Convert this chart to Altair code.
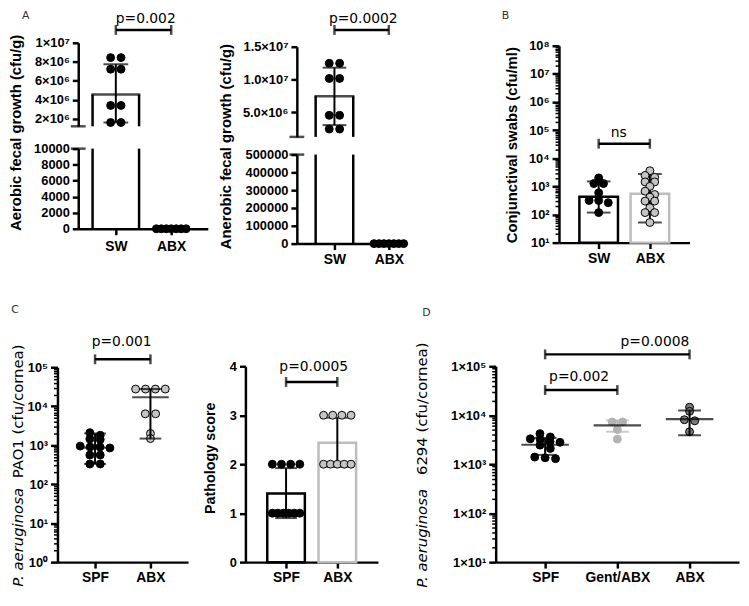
import json
import math
import altair as alt
import pandas as pd

M = 8
W, H = 741, 584


def P(v):
    return v - M


# ================= DATA =================
A1_GROUPS = ["SW", "ABX"]
A1_SW = [8.44e6, 8.44e6, 7.22e6, 7.22e6, 3.4e6, 3.4e6, 1.6e6, 1.6e6]
A1_ABX = [0, 0, 0, 0, 0, 0, 0]
A1_BAR = [4.55e6, 0]
A1_HI = [7.74e6, 0]
A1_LO = [1.6e6, 0]
A1_TOP_TICKS = [2e6, 4e6, 6e6, 8e6, 1e7]
A1_TOP_LABELS = ["2×10⁶", "4×10⁶", "6×10⁶", "8×10⁶", "1×10⁷"]
A1_BOT_TICKS = [0, 2000, 4000, 6000, 8000, 10000]
A1_TITLE = "Aerobic fecal growth (cfu/g)"
A1_P = "p=0.002"

A2_GROUPS = ["SW", "ABX"]
A2_SW = [12.47e6, 12.47e6, 10.15e6, 10.15e6, 4.5e6, 4.5e6, 2.4e6, 2.4e6]
A2_ABX = [0, 0, 0, 0, 0, 0, 0]
A2_BAR = [7.42e6, 0]
A2_HI = [11.8e6, 0]
A2_LO = [3.0e6, 0]
A2_TOP_TICKS = [5e6, 1e7, 1.5e7]
A2_TOP_LABELS = ["5.0×10⁶", "1.0×10⁷", "1.5×10⁷"]
A2_BOT_TICKS = [0, 100000, 200000, 300000, 400000, 500000]
A2_TITLE = "Anerobic fecal growth (cfu/g)"
A2_P = "p=0.0002"

B_GROUPS = ["SW", "ABX"]
B_SW = [2000, 1260, 1260, 590, 316, 316, 263, 117]
B_ABX = [3600, 2450, 2100, 1440, 1440, 1000, 675, 515, 415, 300, 300, 175, 117, 117, 52]
B_BAR = [430, 550]
B_HI = [1500, 2750]
B_LO = [117, 52]
B_TICKS = [1e1, 1e2, 1e3, 1e4, 1e5, 1e6, 1e7, 1e8]
B_LABELS = ["10¹", "10²", "10³", "10⁴", "10⁵", "10⁶", "10⁷", "10⁸"]
B_TITLE = "Conjunctival swabs (cfu/ml)"
B_P = "ns"

C1_GROUPS = ["SPF", "ABX"]
C1_SPF = [2100, 1800, 1450, 1400, 950, 900, 900, 850, 560, 560, 330, 330]
C1_ABX = [27600, 27600, 27600, 27600, 6400, 6400, 2000, 1480]
C1_MEAN = [870, 17000]
C1_HI = [2000, 27600]
C1_LO = [330, 1480]
C1_TICKS = [1, 10, 100, 1000, 10000, 100000]
C1_LABELS = ["10⁰", "10¹", "10²", "10³", "10⁴", "10⁵"]
C1_TITLE_IT = "P. aeruginosa"
C1_TITLE_RM = "PAO1 (cfu/cornea)"
C1_P = "p=0.001"

C2_GROUPS = ["SPF", "ABX"]
C2_SPF = [2, 2, 2, 2, 1, 1, 1, 1, 1, 1]
C2_ABX = [3, 3, 3, 3, 2, 2, 2, 2, 2]
C2_BAR = [1.4, 2.44]
C2_HI = [1.92, 2.95]
C2_LO = [0.9, 1.95]
C2_TICKS = [0, 1, 2, 3, 4]
C2_TITLE = "Pathology score"
C2_P = "p=0.0005"

D_GROUPS = ["SPF", "Gent/ABX", "ABX"]
D_SPF = [4200, 3600, 3300, 3200, 2900, 2800, 2450, 2100, 1400, 1350, 1300]
D_GENT = [7300, 7300, 5100, 3250]
D_ABX = [14600, 12000, 8100, 7700, 4600]
D_MEAN = [2500, 6200, 8300]
D_HI = [3450, 7900, 12500]
D_LO = [1550, 4600, 3900]
D_TICKS = [1e1, 1e2, 1e3, 1e4, 1e5]
D_LABELS = ["1×10¹", "1×10²", "1×10³", "1×10⁴", "1×10⁵"]
D_TITLE_IT = "P. aeruginosa"
D_TITLE_RM = "6294 (cfu/cornea)"
D_P = ["p=0.002", "p=0.0008"]

# ================= STYLE / LAYOUT (page pixels) =================
BLACK = "#000000"
LGREY = "#c4c4c4"
BARGREY = "#bdbdbd"
GENT = "#b3b3b3"
DGREY = "#7d7d7d"
PFONT = "DejaVu Sans"

L_A1 = dict(x0=79, x1=210, c=[117, 173], xaxis_y=228, lpad=5)
S_A1_TOP = dict(type="linear", domain=[1.2e6, 1e7], y0=124.4, y1=40)
S_A1_BOT = dict(type="linear", domain=[0, 10000], y0=228, y1=147)

L_A2 = dict(x0=300, x1=410, c=[338, 393], xaxis_y=243, lpad=3)
S_A2_TOP = dict(type="linear", domain=[1.2e6, 1.5e7], y0=135.1, y1=44)
S_A2_BOT = dict(type="linear", domain=[0, 500000], y0=243, y1=153)

L_B = dict(x0=565, x1=697, c=[603, 659], xaxis_y=242, lpad=3)
S_B = dict(type="log", domain=[1e1, 1e8], y0=242, y1=43)

L_C1 = dict(x0=58, x1=190, c=[96, 152], xaxis_y=565, lpad=3)
S_C1 = dict(type="log", domain=[1, 1e5], y0=565, y1=368)

L_C2 = dict(x0=248, x1=382, c=[287, 343], xaxis_y=565, lpad=3)
S_C2 = dict(type="linear", domain=[0, 4], y0=565, y1=367)

L_D = dict(x0=501, x1=747, c=[551, 624, 697], xaxis_y=565, lpad=3)
S_D = dict(type="log", domain=[1e1, 1e5], y0=565, y1=367)


# ================= helpers =================
def xscale(L):
    st = L["c"][1] - L["c"][0]
    return alt.Scale(type="linear",
                     domain=[(L["x0"] - L["c"][0]) / st, (L["x1"] - L["c"][0]) / st],
                     range=[P(L["x0"]), P(L["x1"])], nice=False, zero=False)


def yscale(S):
    return alt.Scale(type=S["type"], domain=S["domain"],
                     range=[P(S["y0"]), P(S["y1"])], nice=False, zero=False)


def ypix_seg(v, S):
    lo, hi = S["domain"]
    if S["type"] == "log":
        t = (math.log10(v) - math.log10(lo)) / (math.log10(hi) - math.log10(lo))
    else:
        t = (v - lo) / (hi - lo)
    return S["y0"] + t * (S["y1"] - S["y0"])


def ypix_multi(v, segs):
    for S in segs:
        if S["domain"][0] <= v <= S["domain"][1]:
            return ypix_seg(v, S)
    return ypix_seg(v, segs[0])


def swarm(ypx, step_px=10.5, span_px=30.0, thr=4.0):
    order = sorted(range(len(ypx)), key=lambda i: ypx[i])
    rows = []
    for i in order:
        if rows and ypx[i] - ypx[rows[-1][0]] <= thr:
            rows[-1].append(i)
        else:
            rows.append([i])
    off = [0.0] * len(ypx)
    for r in rows:
        k = len(r)
        if k > 1:
            s = min(step_px, span_px / (k - 1))
            for j, i in enumerate(r):
                off[i] = (j - (k - 1) / 2) * s
    return off


def make_points(groups, series, L, segs):
    st = L["c"][1] - L["c"][0]
    rows = []
    for gi, (g, vals) in enumerate(zip(groups, series)):
        off = swarm([ypix_multi(v, segs) for v in vals])
        for v, o in zip(vals, off):
            rows.append({"grp": g, "g": gi, "v": v, "xp": gi + o / st})
    return pd.DataFrame(rows)


def make_summary(groups, hi, lo, bar=None, mean=None):
    n = len(groups)
    b = bar if bar is not None else [0] * n
    m = mean if mean is not None else b
    return pd.DataFrame({"grp": groups, "g": list(range(n)), "bar": b, "mean": m,
                         "hi": hi, "lo": lo})


def label_expr(vals, labels):
    return f"{json.dumps(labels, ensure_ascii=False)}[indexof({json.dumps(vals)}, datum.value)]"


def y_axis(L, values, labels=None, tick=6):
    kw = dict(orient="left", offset=-P(L["x0"]), values=values, title=None, grid=False,
              tickSize=tick, labelPadding=3, labelOverlap=False, labelFlush=False)
    if labels is not None:
        kw["labelExpr"] = label_expr(values, labels)
    else:
        kw["format"] = "d"
    return alt.Axis(**kw)


def minor_axis(L, S):
    lo, hi = S["domain"]
    vals = []
    e = int(math.floor(math.log10(lo)))
    while 10 ** e < hi:
        for k in range(2, 10):
            v = k * 10 ** e
            if lo < v < hi:
                vals.append(v)
        e += 1
    return alt.Axis(orient="left", offset=-P(L["x0"]), values=vals, title=None, grid=False,
                    labels=False, domain=False, tickSize=4, tickWidth=1.5)


def x_axis(L, groups):
    return alt.Axis(orient="bottom", offset=P(L["xaxis_y"]) - H,
                    values=list(range(len(groups))),
                    labelExpr=f"{json.dumps(groups)}[datum.value]", title=None, grid=False,
                    tickSize=6, labelPadding=L["lpad"], labelFlush=False, labelOverlap=False,
                    labelFontSize=14)


def segment(cfg, S, yaxis, xaxis=None, minor=None, brackets=(), break_at=None):
    L = cfg["L"]
    xs, ys = xscale(L), yscale(S)
    lo, hi = S["domain"]
    st = L["c"][1] - L["c"][0]
    xd0 = (L["x0"] - L["c"][0]) / st
    inrange = f"datum.v >= {lo} && datum.v <= {hi}"

    def X(f):
        return alt.X(f, type="quantitative", scale=xs, axis=None)

    def Y(f):
        return alt.Y(f, type="quantitative", scale=ys, axis=None)

    layers = []
    carrier = pd.DataFrame({"g": [0.0], "v": [lo]})
    layers.append(alt.Chart(carrier).mark_point(opacity=0).encode(
        x=X("g"), y=alt.Y("v", type="quantitative", scale=ys, axis=yaxis)))
    if xaxis is not None:
        layers.append(alt.Chart(carrier).mark_point(opacity=0).encode(
            x=alt.X("g", type="quantitative", scale=xs, axis=xaxis), y=Y("v")))
    if minor is not None:
        layers.append(alt.Chart(carrier).mark_point(opacity=0).encode(
            x=X("g"), y=alt.Y("v", type="quantitative", scale=ys, axis=minor)))

    summ = cfg["summ"].assign(base=lo)
    pts = cfg["pts"]
    w = cfg.get("bar_w", 0)

    bars = []
    if cfg.get("bar_mode") == "bar":
        for gi in range(len(cfg["groups"])):
            bars.append(alt.Chart(summ.iloc[[gi]]).mark_bar(
                orient="vertical", size=w, fill="white", stroke=cfg["bar_col"][gi],
                strokeWidth=2.5).encode(x=X("g"), y=Y("bar"), y2=alt.Y2("base")))
    elif cfg.get("bar_mode") == "broken":
        for off in (-w / 2, w / 2):
            bars.append(alt.Chart(summ).transform_filter(f"datum.bar > {lo}")
                        .transform_calculate(yt=f"min(datum.bar, {hi})")
                        .mark_rule(color=BLACK, strokeWidth=2.5, xOffset=off)
                        .encode(x=X("g"), y=Y("yt"), y2=alt.Y2("base")))
        bars.append(alt.Chart(summ).transform_filter(f"datum.bar > {lo} && datum.bar <= {hi}")
                    .mark_tick(orient="horizontal", size=w + 2.5, thickness=2.5, color=BLACK)
                    .encode(x=X("g"), y=Y("bar")))

    points = []
    for gi in range(len(cfg["groups"])):
        fill, stroke = cfg["pstyle"][gi]
        points.append(alt.Chart(pts[pts.g == gi]).transform_filter(inrange)
                      .mark_circle(size=64, fill=fill, stroke=stroke, strokeWidth=1, opacity=1)
                      .encode(x=X("xp"), y=Y("v")))

    errs = []
    cond = f"datum.hi > datum.lo && datum.lo >= {lo} && datum.hi <= {hi}"
    for gi in range(len(cfg["groups"])):
        d = summ.iloc[[gi]]
        col = cfg["errcol"][gi]
        errs.append(alt.Chart(d).transform_filter(cond).mark_rule(color=col, strokeWidth=2)
                    .encode(x=X("g"), y=Y("lo"), y2=alt.Y2("hi")))
        for f in ("hi", "lo"):
            errs.append(alt.Chart(d).transform_filter(cond)
                        .mark_tick(orient="horizontal", size=cfg["cap_w"], thickness=2, color=col)
                        .encode(x=X("g"), y=Y(f)))
        if cfg.get("mean_w"):
            errs.append(alt.Chart(d).transform_filter(cond)
                        .mark_tick(orient="horizontal", size=cfg["mean_w"], thickness=2.2, color=BLACK)
                        .encode(x=X("g"), y=Y("mean")))

    if cfg.get("bar_mode"):
        layers += bars + errs + points
    else:
        layers += points + errs

    for (g1, g2, yv, tx, lab, dy) in brackets:
        d = pd.DataFrame({"g1": [g1], "g2": [g2], "y": [yv], "tx": [tx], "label": [lab]})
        layers.append(alt.Chart(d).mark_rule(color=BLACK, strokeWidth=2.5)
                      .encode(x=X("g1"), x2=alt.X2("g2"), y=Y("y")))
        caps = pd.DataFrame({"g": [g1, g2], "y": [yv, yv]})
        layers.append(alt.Chart(caps).mark_tick(orient="vertical", size=10, thickness=2.5, color=BLACK)
                      .encode(x=X("g"), y=Y("y")))
        layers.append(alt.Chart(d).mark_text(font=PFONT, fontSize=14, baseline="alphabetic",
                                             align="center", dy=dy, color=BLACK)
                      .encode(x=X("tx"), y=Y("y"), text="label:N"))

    if break_at is not None:
        d = pd.DataFrame({"g": [xd0], "y": [break_at]})
        layers.append(alt.Chart(d).mark_tick(orient="horizontal", size=15, thickness=2.5, color=BLACK)
                      .encode(x=X("g"), y=Y("y")))

    return alt.layer(*layers).resolve_axis(x="independent", y="independent")


def text(txt, x, y, **mk):
    return alt.Chart(pd.DataFrame({"t": [txt]})).mark_text(**mk).encode(
        text="t:N", x=alt.value(P(x)), y=alt.value(P(y)))


# ================= panels =================
panels = []

# --- A left ---
cfg = dict(L=L_A1, groups=A1_GROUPS,
           pts=make_points(A1_GROUPS, [A1_SW, A1_ABX], L_A1, [S_A1_TOP, S_A1_BOT]),
           summ=make_summary(A1_GROUPS, A1_HI, A1_LO, bar=A1_BAR),
           bar_mode="broken", bar_w=47, pstyle=[(BLACK, BLACK), (BLACK, BLACK)],
           errcol=[BLACK, BLACK], cap_w=25)
panels.append(segment(cfg, S_A1_TOP, y_axis(L_A1, A1_TOP_TICKS, A1_TOP_LABELS),
                      brackets=[(0, 1, 1.1356e7, 0.54, A1_P, -7)], break_at=S_A1_TOP["domain"][0]))
panels.append(segment(cfg, S_A1_BOT, y_axis(L_A1, A1_BOT_TICKS), xaxis=x_axis(L_A1, A1_GROUPS),
                      break_at=S_A1_BOT["domain"][1]))

# --- A right ---
cfg = dict(L=L_A2, groups=A2_GROUPS,
           pts=make_points(A2_GROUPS, [A2_SW, A2_ABX], L_A2, [S_A2_TOP, S_A2_BOT]),
           summ=make_summary(A2_GROUPS, A2_HI, A2_LO, bar=A2_BAR),
           bar_mode="broken", bar_w=38, pstyle=[(BLACK, BLACK), (BLACK, BLACK)],
           errcol=[BLACK, BLACK], cap_w=24)
panels.append(segment(cfg, S_A2_TOP, y_axis(L_A2, A2_TOP_TICKS, A2_TOP_LABELS),
                      brackets=[(0, 1, 1.7576e7, 0.53, A2_P, -7)], break_at=S_A2_TOP["domain"][0]))
panels.append(segment(cfg, S_A2_BOT, y_axis(L_A2, A2_BOT_TICKS), xaxis=x_axis(L_A2, A2_GROUPS),
                      break_at=S_A2_BOT["domain"][1]))

# --- B ---
cfg = dict(L=L_B, groups=B_GROUPS,
           pts=make_points(B_GROUPS, [B_SW, B_ABX], L_B, [S_B]),
           summ=make_summary(B_GROUPS, B_HI, B_LO, bar=B_BAR),
           bar_mode="bar", bar_w=39, bar_col=[BLACK, BARGREY],
           pstyle=[(BLACK, BLACK), (LGREY, BLACK)], errcol=[BLACK, BLACK], cap_w=24)
panels.append(segment(cfg, S_B, y_axis(L_B, B_TICKS, B_LABELS, tick=7), xaxis=x_axis(L_B, B_GROUPS),
                      minor=minor_axis(L_B, S_B), brackets=[(0, 1, 3.3e4, 0.39, B_P, -7)]))

# --- C left ---
cfg = dict(L=L_C1, groups=C1_GROUPS,
           pts=make_points(C1_GROUPS, [C1_SPF, C1_ABX], L_C1, [S_C1]),
           summ=make_summary(C1_GROUPS, C1_HI, C1_LO, mean=C1_MEAN),
           pstyle=[(BLACK, BLACK), (LGREY, BLACK)], errcol=[BLACK, BLACK], cap_w=22, mean_w=37)
panels.append(segment(cfg, S_C1, y_axis(L_C1, C1_TICKS, C1_LABELS, tick=7), xaxis=x_axis(L_C1, C1_GROUPS),
                      minor=minor_axis(L_C1, S_C1), brackets=[(0, 1, 1.6e5, 0.48, C1_P, -13)]))

# --- C right ---
cfg = dict(L=L_C2, groups=C2_GROUPS,
           pts=make_points(C2_GROUPS, [C2_SPF, C2_ABX], L_C2, [S_C2]),
           summ=make_summary(C2_GROUPS, C2_HI, C2_LO, bar=C2_BAR),
           bar_mode="bar", bar_w=38, bar_col=[BLACK, BARGREY],
           pstyle=[(BLACK, BLACK), (LGREY, BLACK)], errcol=[BLACK, BLACK], cap_w=22)
panels.append(segment(cfg, S_C2, y_axis(L_C2, C2_TICKS), xaxis=x_axis(L_C2, C2_GROUPS),
                      brackets=[(0, 1, 3.68, 0.54, C2_P, -11)]))

# --- D ---
cfg = dict(L=L_D, groups=D_GROUPS,
           pts=make_points(D_GROUPS, [D_SPF, D_GENT, D_ABX], L_D, [S_D]),
           summ=make_summary(D_GROUPS, D_HI, D_LO, mean=D_MEAN),
           pstyle=[(BLACK, BLACK), (GENT, GENT), (DGREY, BLACK)],
           errcol=[BLACK, GENT, BLACK], cap_w=23, mean_w=48)
panels.append(segment(cfg, S_D, y_axis(L_D, D_TICKS, D_LABELS, tick=7), xaxis=x_axis(L_D, D_GROUPS),
                      minor=minor_axis(L_D, S_D),
                      brackets=[(0, 2, 1.75e5, 1.52, D_P[1], -8), (0, 1, 3.27e4, 0.47, D_P[0], -9)]))

# ================= titles and panel letters =================
TB = dict(font="Liberation Sans", fontSize=15, fontWeight="bold", color=BLACK, angle=270,
          align="center", baseline="middle")
TR = dict(font=PFONT, fontSize=15, color=BLACK, angle=270, baseline="middle")
LET = dict(font=PFONT, fontSize=11, color="#333333", align="center", baseline="middle")
texts = [
    text(A1_TITLE, 16, 131, **TB),
    text(A2_TITLE, 228, 145, **TB),
    text(B_TITLE, 518, 143.5, **TB),
    text(C2_TITLE, 213, 460, font="Liberation Sans", fontSize=14.5, fontWeight="bold", color=BLACK,
         angle=270, align="center", baseline="middle"),
    text(C1_TITLE_IT, 18, 590, fontStyle="italic", align="left", **TR),
    text(C1_TITLE_RM, 18, 345, align="right", **TR),
    text(D_TITLE_IT, 427, 591, fontStyle="italic", align="left", **TR),
    text(D_TITLE_RM, 427, 343, align="right", **TR),
    text("A", 26, 12.5, **LET),
    text("B", 511, 12.5, **LET),
    text("C", 15, 310, **LET),
    text("D", 431, 313, **LET),
]

chart = (
    alt.layer(*panels, *texts)
    .resolve_scale(x="independent", y="independent")
    .properties(width=W, height=H, padding=0, autosize=alt.AutoSizeParams(type="none"))
    .configure_view(strokeWidth=0)
    .configure_axis(domainColor=BLACK, domainWidth=2.5, tickColor=BLACK, tickWidth=2.5,
                    labelColor=BLACK, labelFont="Liberation Sans", labelFontSize=13,
                    labelFontWeight="bold", grid=False)
)

chart.save("out.html", embed_options={"renderer": "svg", "actions": False})
